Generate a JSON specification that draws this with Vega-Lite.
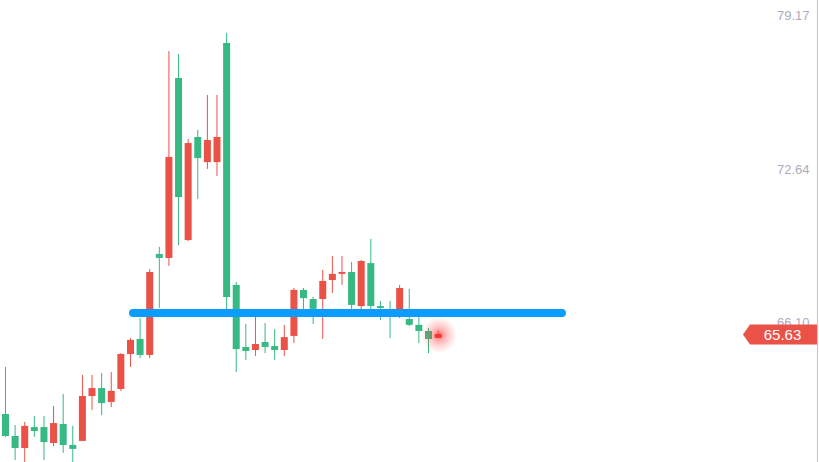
{
  "$schema": "https://vega.github.io/schema/vega-lite/v6.json",
  "width": 819,
  "height": 462,
  "padding": 0,
  "autosize": {"type": "none"},
  "background": "#ffffff",
  "config": {"view": {"stroke": null}, "font": "Liberation Sans"},
  "datasets": {
    "candles": [
      {"i": 1, "open": 62.23, "high": 64.23, "low": 61.25, "close": 61.29},
      {"i": 2, "open": 61.29, "high": 61.76, "low": 60.27, "close": 60.78},
      {"i": 3, "open": 60.78, "high": 61.89, "low": 60.1, "close": 61.72},
      {"i": 4, "open": 61.67, "high": 62.14, "low": 61.25, "close": 61.5},
      {"i": 5, "open": 61.67, "high": 62.14, "low": 60.27, "close": 61.03},
      {"i": 6, "open": 60.99, "high": 62.57, "low": 60.86, "close": 61.84},
      {"i": 7, "open": 61.8, "high": 63.08, "low": 60.57, "close": 60.91},
      {"i": 8, "open": 60.91, "high": 61.72, "low": 60.1, "close": 60.74},
      {"i": 9, "open": 61.08, "high": 63.89, "low": 61.08, "close": 62.99},
      {"i": 10, "open": 62.99, "high": 63.89, "low": 62.4, "close": 63.33},
      {"i": 11, "open": 63.33, "high": 63.97, "low": 62.18, "close": 62.69},
      {"i": 12, "open": 62.74, "high": 64.01, "low": 62.52, "close": 63.21},
      {"i": 13, "open": 63.29, "high": 64.82, "low": 63.21, "close": 64.78},
      {"i": 14, "open": 64.78, "high": 65.46, "low": 64.23, "close": 65.38},
      {"i": 15, "open": 65.42, "high": 66.31, "low": 64.61, "close": 64.74},
      {"i": 16, "open": 64.74, "high": 68.4, "low": 64.61, "close": 68.27},
      {"i": 17, "open": 69.04, "high": 69.34, "low": 66.74, "close": 68.87},
      {"i": 18, "open": 68.87, "high": 77.68, "low": 68.53, "close": 73.17},
      {"i": 19, "open": 76.53, "high": 77.55, "low": 69.42, "close": 71.46},
      {"i": 20, "open": 69.63, "high": 73.93, "low": 69.59, "close": 73.76},
      {"i": 21, "open": 74.02, "high": 74.32, "low": 71.38, "close": 73.12},
      {"i": 22, "open": 72.95, "high": 75.81, "low": 72.66, "close": 73.89},
      {"i": 23, "open": 72.95, "high": 75.81, "low": 72.36, "close": 74.02},
      {"i": 24, "open": 78.02, "high": 78.45, "low": 66.65, "close": 67.21},
      {"i": 25, "open": 67.72, "high": 67.85, "low": 64.01, "close": 64.99},
      {"i": 26, "open": 65.08, "high": 66.06, "low": 64.53, "close": 64.91},
      {"i": 27, "open": 64.95, "high": 66.45, "low": 64.7, "close": 65.21},
      {"i": 28, "open": 65.29, "high": 66.1, "low": 64.82, "close": 65.08},
      {"i": 29, "open": 65.12, "high": 65.84, "low": 64.53, "close": 64.95},
      {"i": 30, "open": 64.95, "high": 66.02, "low": 64.7, "close": 65.5},
      {"i": 31, "open": 65.55, "high": 67.59, "low": 65.25, "close": 67.51},
      {"i": 32, "open": 67.51, "high": 67.59, "low": 66.65, "close": 67.16},
      {"i": 33, "open": 67.12, "high": 67.21, "low": 66.06, "close": 66.7},
      {"i": 34, "open": 67.12, "high": 68.36, "low": 65.42, "close": 67.89},
      {"i": 35, "open": 67.93, "high": 68.95, "low": 67.38, "close": 68.19},
      {"i": 36, "open": 68.19, "high": 68.95, "low": 67.72, "close": 68.27},
      {"i": 37, "open": 68.27, "high": 68.7, "low": 66.6, "close": 66.87},
      {"i": 38, "open": 66.82, "high": 68.78, "low": 66.6, "close": 68.74},
      {"i": 39, "open": 68.65, "high": 69.68, "low": 66.6, "close": 66.82},
      {"i": 40, "open": 66.82, "high": 67.04, "low": 66.23, "close": 66.74},
      {"i": 41, "open": 66.6, "high": 67.04, "low": 65.46, "close": 66.45},
      {"i": 42, "open": 66.6, "high": 67.72, "low": 66.31, "close": 67.59},
      {"i": 43, "open": 66.27, "high": 67.55, "low": 65.97, "close": 66.02},
      {"i": 44, "open": 66.02, "high": 66.4, "low": 65.25, "close": 65.76},
      {"i": 45, "open": 65.76, "high": 65.89, "low": 64.82, "close": 65.42},
      {"i": 46, "open": 65.46, "high": 65.78, "low": 65.46, "close": 65.63}
    ],
    "levels": [{"start": 14.26, "end": 58.88, "price": 66.53}],
    "marker": [{"i": 46.1, "price": 65.58}],
    "edge": [{"i": 85.46}],
    "tag": [{"i": 81.56, "ti": 81.82, "price": 65.61, "label": "65.63"}]
  },
  "layer": [
    {
      "data": {"name": "candles"},
      "mark": {"type": "rule", "strokeWidth": 1},
      "encoding": {
        "x": {"field": "i", "type": "quantitative", "scale": {"domain": [0.428, 85.62], "nice": false, "zero": false, "padding": 0}, "axis": null},
        "y": {"field": "low", "type": "quantitative", "scale": {"domain": [60.182, 79.851], "nice": false, "zero": false, "padding": 0},
          "axis": {"orient": "right", "values": [66.1, 72.64, 79.17], "format": ".2f", "domain": false, "ticks": false, "tickSize": 0, "grid": false, "labelAlign": "right", "labelPadding": -10, "labelFlush": false, "labelOverlap": false, "labelFont": "Liberation Sans", "labelFontSize": 13, "labelColor": "#abadbd", "title": null}},
        "y2": {"field": "high"},
        "color": {"condition": {"test": "datum.close > datum.open", "value": "#ea5147"}, "value": "#36b982"}
      }
    },
    {
      "data": {"name": "candles"},
      "mark": {"type": "bar", "size": 7},
      "encoding": {
        "x": {"field": "i", "type": "quantitative"},
        "y": {"field": "open", "type": "quantitative"},
        "y2": {"field": "close"},
        "color": {"condition": {"test": "datum.close > datum.open", "value": "#ea5147"}, "value": "#36b982"}
      }
    },
    {
      "data": {"name": "levels"},
      "mark": {"type": "rule", "strokeWidth": 8, "strokeCap": "round", "color": "#0a9cff"},
      "encoding": {
        "x": {"field": "start", "type": "quantitative"},
        "x2": {"field": "end"},
        "y": {"field": "price", "type": "quantitative"}
      }
    },
    {
      "data": {"name": "marker"},
      "mark": {"type": "point", "shape": "circle", "filled": true, "size": 1300, "strokeWidth": 0, "opacity": 1,
        "fill": {"gradient": "radial", "stops": [{"offset": 0, "color": "rgba(255,20,20,0.6)"}, {"offset": 0.45, "color": "rgba(255,60,60,0.3)"}, {"offset": 1, "color": "rgba(255,90,90,0)"}]}},
      "encoding": {
        "x": {"field": "i", "type": "quantitative"},
        "y": {"field": "price", "type": "quantitative"}
      }
    },
    {
      "data": {"name": "edge"},
      "mark": {"type": "rule", "strokeWidth": 1, "color": "#f6b98a"},
      "encoding": {"x": {"field": "i", "type": "quantitative"}}
    },
    {
      "data": {"name": "tag"},
      "mark": {"type": "point", "filled": true, "opacity": 1, "strokeWidth": 0, "color": "#ea5147", "size": 5476,
        "shape": "M -1 0 L -0.81 -0.27 L 1 -0.27 L 1 0.27 L -0.81 0.27 Z"},
      "encoding": {
        "x": {"field": "i", "type": "quantitative"},
        "y": {"field": "price", "type": "quantitative"}
      }
    },
    {
      "data": {"name": "tag"},
      "mark": {"type": "text", "color": "#ffffff", "fontSize": 15, "font": "Liberation Sans", "align": "center", "baseline": "middle"},
      "encoding": {
        "x": {"field": "ti", "type": "quantitative"},
        "y": {"field": "price", "type": "quantitative"},
        "text": {"field": "label"}
      }
    }
  ]
}
